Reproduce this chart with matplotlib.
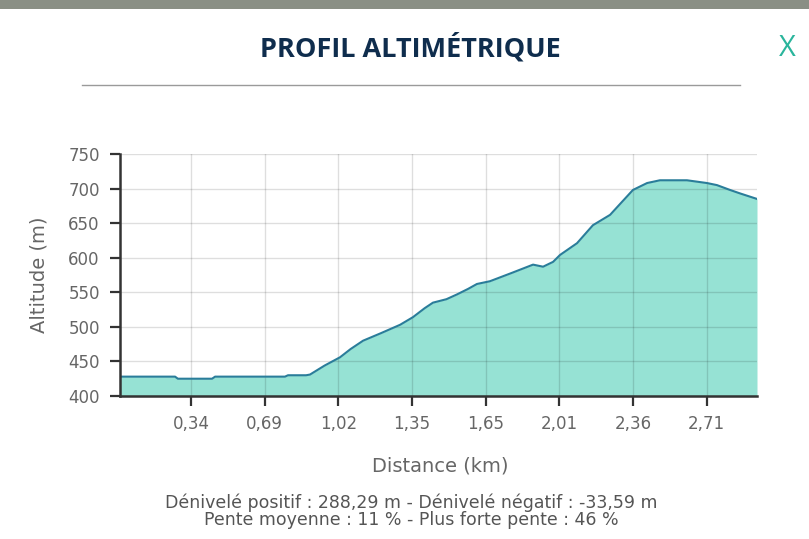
import matplotlib
matplotlib.use("Agg")
import matplotlib.pyplot as plt
from matplotlib.patches import Rectangle
import numpy as np

plt.rcParams["font.family"] = ["DejaVu Sans"]

# Profile data (distance km, altitude m)
distance = [0.0, 0.253, 0.266, 0.423, 0.437, 0.758, 0.772, 0.855, 0.873, 0.94, 1.011,
            1.06, 1.117, 1.20, 1.287, 1.346, 1.40, 1.438, 1.50, 1.549, 1.60, 1.640,
            1.700, 1.80, 1.898, 1.944, 1.990, 2.022, 2.100, 2.173, 2.252, 2.284,
            2.357, 2.422, 2.481, 2.605, 2.697, 2.743, 2.803, 2.849, 2.927]
altitude = [428, 428, 425, 425, 428, 428, 430, 430, 431, 444, 456,
            468, 480, 491, 503, 514, 527, 535, 540, 547, 555, 562,
            566, 578, 590, 587, 594, 604, 621, 647, 662, 673,
            698, 708, 712, 712, 708, 705, 698, 693, 685]

tick_labels = ["0,34", "0,69", "1,02", "1,35", "1,65", "2,01", "2,36", "2,71"]
tick_first = 0.326
tick_step = 0.3386
x_max = 2.927
y_ticks = [400, 450, 500, 550, 600, 650, 700, 750]

title = "PROFIL ALTIMÉTRIQUE"
stats1 = "Dénivelé positif : 288,29 m - Dénivelé négatif : -33,59 m"
stats2 = "Pente moyenne : 11 % - Plus forte pente : 46 %"

W, H = 809, 539
fig = plt.figure(figsize=(W / 100, H / 100), dpi=100)
fig.patch.set_facecolor("white")

# top strip (background map remnant)
fig.patches.append(Rectangle((0, 1 - 9 / H), 1, 9 / H, transform=fig.transFigure,
                             facecolor="#8a8f85", edgecolor="none", zorder=0))

fig.text(410 / W, 1 - 48 / H, title, ha="center", va="center", fontsize=19.5,
         fontweight="bold", color="#0f2d4d", family=["Open Sans", "DejaVu Sans"])
fig.text(787 / W, 1 - 48 / H, "X", ha="center", va="center", fontsize=21,
         color="#2ab59c", family=["Open Sans", "DejaVu Sans"])
fig.add_artist(plt.Line2D([82 / W, 740 / W], [1 - 85 / H, 1 - 85 / H],
                          color="#9a9a9a", lw=1.0, transform=fig.transFigure))

ax = fig.add_axes([120 / W, (H - 396) / H, (757 - 120) / W, (396 - 154) / H])
ax.fill_between(distance, altitude, 400, color="#96e2d4", zorder=2, lw=0)
ax.plot(distance, altitude, color="#2a7d9a", lw=1.5, zorder=3)

xt = [tick_first + i * tick_step for i in range(len(tick_labels))]
ax.set_xticks(xt)
ax.set_xticklabels(tick_labels)
ax.set_yticks(y_ticks)
ax.set_xlim(0, x_max)
ax.set_ylim(400, 750)

ax.grid(True, color="#d8d8d8", lw=1.0, zorder=1)
ax.set_axisbelow(False)
for gl in ax.get_xgridlines() + ax.get_ygridlines():
    gl.set_zorder(2.5)
    gl.set_color("#000000")
    gl.set_alpha(0.13)

for s in ["top", "right"]:
    ax.spines[s].set_visible(False)
for s in ["left", "bottom"]:
    ax.spines[s].set_color("#333333")
    ax.spines[s].set_linewidth(1.8)
    ax.spines[s].set_zorder(4)

ax.tick_params(axis="both", colors="#333333", labelcolor="#666666", labelsize=12,
               length=7.5, width=1.6, direction="out")
ax.tick_params(axis="y", pad=7)
ax.tick_params(axis="x", pad=6)

ax.set_ylabel("Altitude (m)", fontsize=14, color="#666666", labelpad=14)
fig.text(440 / W, 1 - 466 / H, "Distance (km)", ha="center", va="center",
         fontsize=14, color="#666666")
fig.text(411 / W, 1 - 503 / H, stats1, ha="center", va="center", fontsize=12.5,
         color="#555555")
fig.text(411 / W, 1 - 520 / H, stats2, ha="center", va="center", fontsize=12.5,
         color="#555555")

fig.patches.append(Rectangle((0, 0), 1, 9 / H, transform=fig.transFigure,
                             facecolor="white", edgecolor="none", zorder=10))

fig.savefig("out.png", dpi=100)
